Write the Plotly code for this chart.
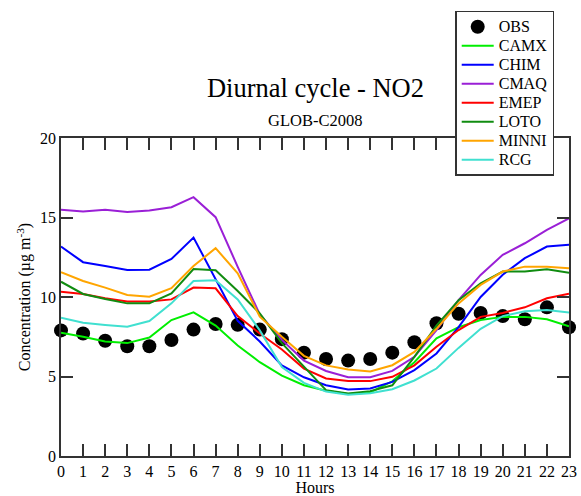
import plotly.graph_objects as go

hours = list(range(24))
x_ticks = list(range(24))
y_ticks = [0, 5, 10, 15, 20]

obs = [7.9, 7.7, 7.25, 6.9, 6.9, 7.3, 7.95, 8.3, 8.25, 7.95, 7.35, 6.5, 6.1, 6.0, 6.1, 6.5, 7.15, 8.35, 8.95, 9.0, 8.8, 8.6, 9.35, 8.1]
camx = [7.75, 7.5, 7.2, 7.1, 7.45, 8.55, 9.03, 8.2, 6.95, 5.9, 5.05, 4.45, 4.1, 3.9, 4.0, 4.7, 5.9, 7.4, 8.1, 8.55, 8.75, 8.75, 8.6, 8.15]
chim = [13.17, 12.19, 11.95, 11.7, 11.72, 12.39, 13.74, 11.1, 8.5, 7.2, 5.7, 4.95, 4.45, 4.18, 4.24, 4.66, 5.4, 6.45, 8.1, 10.0, 11.4, 12.44, 13.17, 13.28]
cmaq = [15.48, 15.38, 15.48, 15.34, 15.44, 15.65, 16.28, 15.02, 11.9, 8.9, 7.3, 6.0, 5.35, 4.96, 4.96, 5.35, 6.24, 7.92, 9.8, 11.39, 12.65, 13.38, 14.22, 14.95]
emep = [10.33, 10.19, 9.92, 9.71, 9.71, 9.85, 10.59, 10.55, 8.8, 7.7, 6.7, 5.5, 4.88, 4.71, 4.71, 4.98, 5.7, 6.87, 7.92, 8.75, 9.0, 9.35, 9.92, 10.2]
loto = [10.96, 10.19, 9.87, 9.6, 9.6, 10.23, 11.76, 11.68, 10.38, 8.97, 7.1, 5.6, 4.14, 3.93, 4.08, 4.45, 6.24, 8.2, 9.8, 10.86, 11.6, 11.6, 11.74, 11.53]
minni = [11.56, 11.01, 10.59, 10.13, 10.02, 10.55, 11.95, 13.07, 11.49, 8.76, 7.5, 6.3, 5.7, 5.44, 5.32, 5.71, 6.55, 8.0, 9.6, 10.76, 11.6, 11.91, 11.91, 11.81]
rcg = [8.7, 8.38, 8.24, 8.13, 8.49, 9.6, 11.01, 11.05, 9.85, 7.9, 5.6, 4.6, 4.05, 3.85, 3.95, 4.2, 4.75, 5.5, 6.8, 8.0, 8.8, 9.1, 9.18, 9.02]

models = [
    ("CAMX", camx, "#00ee00"),
    ("CHIM", chim, "#0000ff"),
    ("CMAQ", cmaq, "#9a1fd6"),
    ("EMEP", emep, "#ff0000"),
    ("LOTO", loto, "#108c10"),
    ("MINNI", minni, "#ffa500"),
    ("RCG", rcg, "#40e0d0"),
]

FONT = "Liberation Serif"


def legend_label(name):
    return "<span style='font-size:16px'>" + name + "</span>"


fig = go.Figure()
fig.add_trace(go.Scatter(x=hours, y=obs, mode="markers", name=legend_label("OBS"),
                         marker=dict(color="black", size=14), cliponaxis=False))
for name, vals, col in models:
    fig.add_trace(go.Scatter(x=hours, y=vals, mode="lines", name=legend_label(name),
                             line=dict(color=col, width=2)))

axis_common = dict(showline=True, linecolor="#333333", linewidth=1.5, mirror="ticks",
                   ticks="inside", ticklen=12, tickwidth=1.5, tickcolor="#333333",
                   showgrid=False, zeroline=False, automargin=False,
                   tickfont=dict(family=FONT, size=16, color="black"))

fig.update_xaxes(range=[0, 23], tickvals=x_ticks, ticktext=[str(v) for v in x_ticks],
                 title=dict(text="Hours", font=dict(family=FONT, size=16, color="black"), standoff=2),
                 **axis_common)
fig.update_yaxes(range=[0, 20], tickvals=y_ticks, ticktext=[str(v) for v in y_ticks],
                 title=dict(text="Concentration (µg m<sup>-3</sup>)", font=dict(family=FONT, size=16, color="black"), standoff=5),
                 **axis_common)

fig.update_layout(
    width=581, height=496,
    margin=dict(l=61, r=12, t=138, b=40, autoexpand=False),
    plot_bgcolor="white", paper_bgcolor="white",
    font=dict(family=FONT, color="black"),
    title=dict(text="Diurnal cycle - NO2", x=0.543, xanchor="center",
               y=0.823, yanchor="middle",
               font=dict(family=FONT, size=26.5, color="black")),
    annotations=[dict(text="GLOB-C2008", xref="paper", yref="paper", x=0.5, y=1.055,
                      xanchor="center", yanchor="middle", showarrow=False,
                      font=dict(family=FONT, size=16.5, color="black"))],
    legend=dict(x=0.776, y=1.40, xanchor="left", yanchor="top",
                bgcolor="white", bordercolor="#333333", borderwidth=1.5,
                font=dict(family=FONT, size=12.3, color="black"),
                itemwidth=32, tracegroupgap=0),
)

fig.write_html("out.html", post_script="document.body.style.margin='0';",
               config={"displayModeBar": False})
